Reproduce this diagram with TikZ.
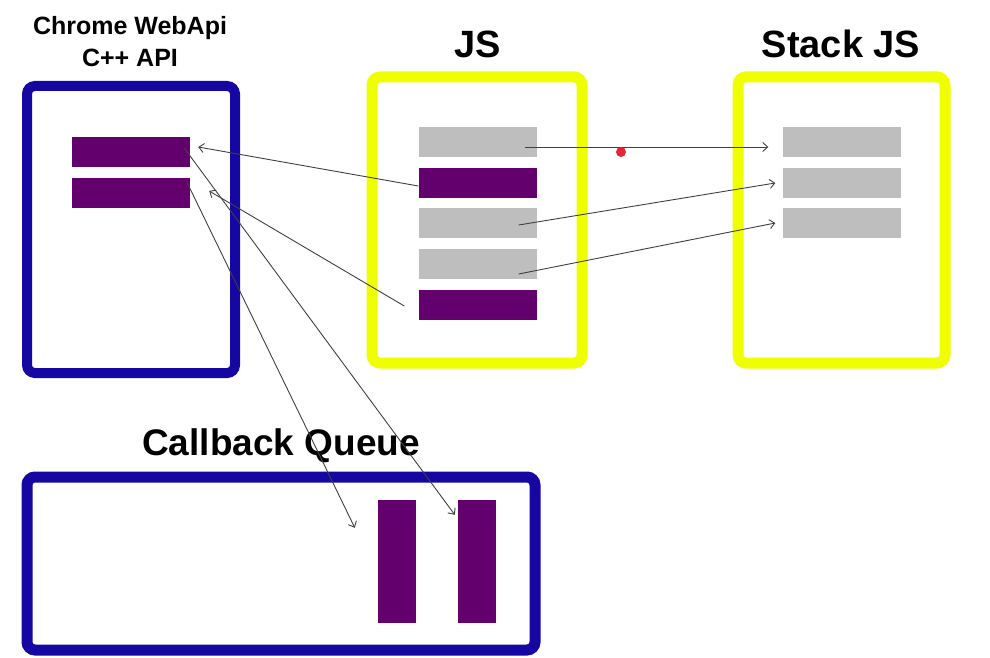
\documentclass[tikz,border=0pt]{standalone}
\usepackage{fontspec}
\setmainfont{Liberation Sans}
\usepackage{tikz}
\usetikzlibrary{positioning,arrows.meta}

\definecolor{apiblue}{RGB}{22,6,162}
\definecolor{jsyellow}{RGB}{240,255,0}
\definecolor{cbpurple}{RGB}{100,0,110}
\definecolor{slotgray}{RGB}{190,190,190}
\definecolor{dotred}{RGB}{235,35,55}

\tikzset{
  pbar/.style={fill=cbpurple,draw=none,minimum width=118pt,minimum height=30pt,inner sep=0pt},
  gbar/.style={fill=slotgray,draw=none,minimum width=118pt,minimum height=30pt,inner sep=0pt},
  qbar/.style={fill=cbpurple,draw=none,minimum width=38pt,minimum height=123pt,inner sep=0pt},
  title/.style={font=\bfseries\fontsize{38}{44}\selectfont,anchor=base,inner sep=0pt},
  call/.style={-{Straight Barb[length=5pt,width=9pt]},black!75,line width=0.9pt}
}

\begin{document}
\begin{tikzpicture}[x=1pt,y=-1pt]
  \useasboundingbox (0,0) rectangle (990,658);

  % frames
  \draw[apiblue,line width=10pt,rounded corners=8pt] (27,86) rectangle (235,373);
  \draw[jsyellow,line width=11pt,rounded corners=8pt] (372,77) rectangle (582,363);
  \draw[jsyellow,line width=11pt,rounded corners=8pt] (738,77) rectangle (945,363);
  \draw[apiblue,line width=11pt,rounded corners=8pt] (27,477) rectangle (535,650);

  % titles
  \node[title,font=\bfseries\fontsize{25}{30}\selectfont] (chrome) at (130,35) {Chrome WebApi};
  \node[title,font=\bfseries\fontsize{25}{30}\selectfont] (cpp) at (130,67) {C++ API};
  \node[title] (js) at (478,58) {JS};
  \node[title] (stack) at (841,58) {Stack JS};
  \node[title,font=\bfseries\fontsize{37}{44}\selectfont] (queue) at (281,455) {Callback Queue};

  % web api slots
  \node[pbar] (cw1) at (131,152) {};
  \node[pbar] (cw2) at (131,193) {};

  % js slots
  \node[gbar] (jsg1) at (477.5,142) {};
  \node[pbar] (jsp1) at (477.5,183) {};
  \node[gbar] (jsg2) at (477.5,223) {};
  \node[gbar] (jsg3) at (477.5,264) {};
  \node[pbar] (jsp2) at (477.5,305) {};

  % stack slots
  \node[gbar] (sg1) at (841.5,142) {};
  \node[gbar] (sg2) at (841.5,183) {};
  \node[gbar] (sg3) at (841.5,223) {};

  % queue slots
  \node[qbar] (cb1) at (397,561.5) {};
  \node[qbar] (cb2) at (477,561.5) {};

  % calls
  \draw[call] ([yshift=-3pt]jsp1.west) -- ([xshift=8pt,yshift=5pt]cw1.east);
  \draw[call] ([xshift=-14pt,yshift=-1pt]jsp2.west) -- ([xshift=19pt,yshift=2pt]cw2.east);
  \draw[call] ([xshift=-6pt,yshift=4pt]cw1.east) -- ([xshift=-3pt,yshift=-15pt]cb2.north west);
  \draw[call] ([xshift=-3pt,yshift=-5pt]cw2.north east) -- ([xshift=-23pt,yshift=-28pt]cb1.north west);
  \draw[call] ([xshift=-12pt,yshift=-5pt]jsg1.east) -- ([xshift=-14pt,yshift=-5pt]sg1.west);
  \draw[call] ([xshift=-18pt,yshift=-2pt]jsg2.east) -- ([xshift=-7pt]sg2.west);
  \draw[call] ([xshift=-18pt,yshift=-10pt]jsg3.east) -- ([xshift=-7pt]sg3.west);

  \fill[dotred] (621,152) circle (5pt);
\end{tikzpicture}
\end{document}
